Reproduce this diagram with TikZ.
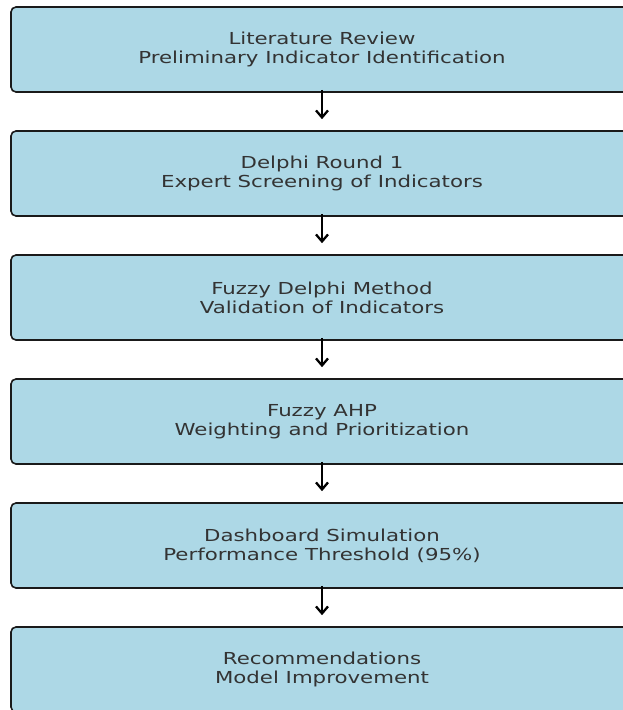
\documentclass[tikz,border=0pt]{standalone}
\usepackage{fontspec}
\setmainfont{DejaVu Sans}[FakeStretch=1.29]
\usetikzlibrary{arrows.meta,positioning}
\definecolor{boxfill}{HTML}{ADD8E6}
\definecolor{ink}{HTML}{333333}
\definecolor{edge}{HTML}{1A1A1A}
\tikzset{
  >={Straight Barb[length=7pt,width=12pt,line width=2.3pt]},
  stagebox/.style={draw=edge,fill=boxfill,rounded corners=5pt,line width=1.6pt,
    minimum width=622pt,minimum height=85pt,inner sep=0pt,align=center,
    text=ink,font=\fontsize{16.5}{19}\selectfont},
  flow/.style={->,line width=2.2pt,color=black},
}
\begin{document}
\begin{tikzpicture}[x=1pt,y=1pt]
  \useasboundingbox (0,0) rectangle (623,-710);
  \clip (0,0) rectangle (623,-710);
  \node[stagebox] (lit) at (322,-49.5) {Literature Review\\Preliminary Indicator Identification};
  \node[stagebox] (round1) at (322,-173.5) {Delphi Round 1\\Expert Screening of Indicators};
  \node[stagebox] (fdm) at (322,-297.5) {Fuzzy Delphi Method\\Validation of Indicators};
  \node[stagebox] (ahp) at (322,-421.5) {Fuzzy AHP\\Weighting and Prioritization};
  \node[stagebox] (dash) at (322,-545.5) {Dashboard Simulation\\Performance Threshold (95\%)};
  \node[stagebox] (recs) at (322,-669.5) {Recommendations\\Model Improvement};
  % arrows between stages
  \foreach \a/\b in {lit/round1,round1/fdm,fdm/ahp,ahp/dash,dash/recs}{
    \draw[flow] ([yshift=3pt]\a.south) -- ([yshift=11pt]\b.north);
  }
\end{tikzpicture}
\end{document}
